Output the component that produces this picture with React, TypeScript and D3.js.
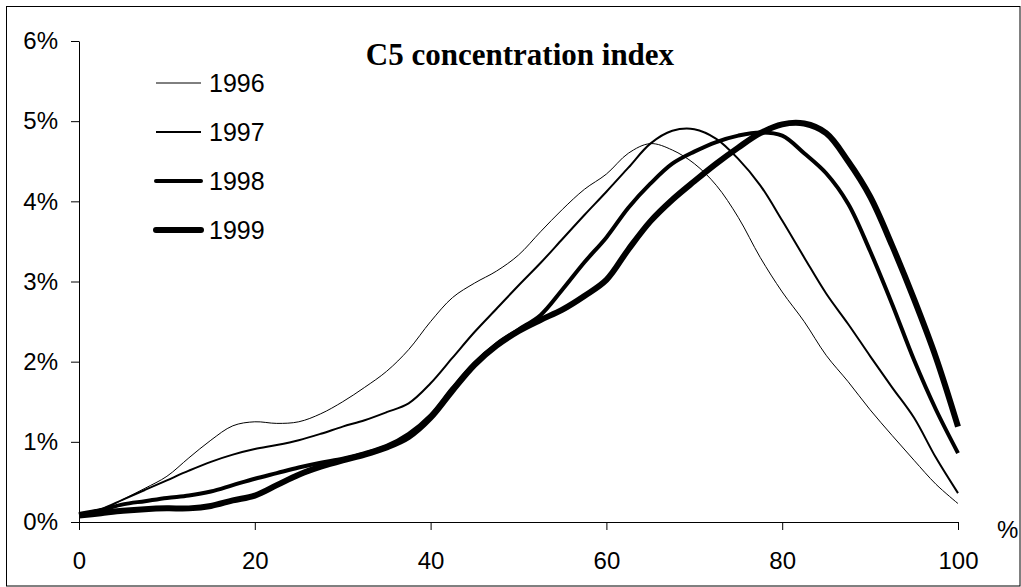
import { useEffect, useRef } from "react";
import * as d3 from "d3";

// share of firms (%) on the x axis
const xs = [0, 2.5, 5, 7.5, 10, 12.5, 15, 17.5, 20, 22.5, 25, 27.5, 30, 32.5, 35, 37.5, 40, 42.5, 45, 47.5, 50, 52.5, 55, 57.5, 60, 62.5, 65, 67.5, 70, 72.5, 75, 77.5, 80, 82.5, 85, 87.5, 90, 92.5, 95, 97.5, 100];

const y1996 = [0.1, 0.15, 0.28, 0.42, 0.57, 0.8, 1.02, 1.2, 1.25, 1.23, 1.25, 1.35, 1.5, 1.68, 1.88, 2.15, 2.5, 2.8, 2.98, 3.13, 3.33, 3.62, 3.9, 4.15, 4.34, 4.6, 4.72, 4.64, 4.47, 4.2, 3.8, 3.3, 2.87, 2.5, 2.08, 1.75, 1.4, 1.08, 0.77, 0.47, 0.23];
const y1997 = [0.1, 0.16, 0.28, 0.4, 0.52, 0.64, 0.75, 0.84, 0.91, 0.96, 1.02, 1.1, 1.19, 1.27, 1.37, 1.48, 1.73, 2.05, 2.37, 2.66, 2.95, 3.23, 3.53, 3.83, 4.12, 4.42, 4.72, 4.88, 4.9, 4.78, 4.53, 4.2, 3.76, 3.3, 2.85, 2.47, 2.07, 1.68, 1.3, 0.8, 0.36];
const y1998 = [0.1, 0.15, 0.22, 0.26, 0.3, 0.33, 0.38, 0.46, 0.54, 0.61, 0.68, 0.74, 0.79, 0.86, 0.95, 1.1, 1.33, 1.67, 1.98, 2.22, 2.4, 2.58, 2.9, 3.24, 3.55, 3.92, 4.22, 4.47, 4.62, 4.74, 4.82, 4.86, 4.82, 4.6, 4.35, 3.97, 3.38, 2.72, 2.02, 1.4, 0.86];
const y1999 = [0.08, 0.11, 0.14, 0.16, 0.17, 0.17, 0.2, 0.27, 0.33, 0.46, 0.59, 0.69, 0.77, 0.84, 0.93, 1.06, 1.3, 1.64, 1.96, 2.2, 2.38, 2.52, 2.65, 2.82, 3.02, 3.4, 3.75, 4.02, 4.25, 4.47, 4.67, 4.85, 4.96, 4.97, 4.85, 4.5, 4.06, 3.45, 2.78, 2.05, 1.19];

const years = ["1996", "1997", "1998", "1999"];
const widths = [1, 2, 4, 6];
const xTicks = [0, 20, 40, 60, 80, 100];
const yTicks = [0, 1, 2, 3, 4, 5, 6];

export default function App() {
  const ref = useRef(null);

  useEffect(() => {
    const svg = d3.select(ref.current);
    svg.selectAll("*").remove();

    const width = 1021, height = 587;
    const font = "'Liberation Sans', Arial, sans-serif";

    // outer frame
    svg.append("rect")
      .attr("x", 6.5).attr("y", 6.5)
      .attr("width", width - 7.5).attr("height", height - 7.5)
      .attr("fill", "white").attr("stroke", "black");

    const x = d3.scaleLinear().domain([0, 100]).range([79, 958]);
    const y = d3.scaleLinear().domain([0, 6]).range([522, 41]);

    // y axis
    const ya = svg.append("g")
      .attr("transform", "translate(79,0)")
      .call(d3.axisLeft(y).tickValues(yTicks).tickFormat((d) => d + "%").tickSize(8).tickSizeOuter(0).tickPadding(13));
    ya.selectAll("text").attr("font-family", font).attr("font-size", 24).attr("fill", "black");

    // x axis
    const xa = svg.append("g")
      .attr("transform", "translate(0,522)")
      .call(d3.axisBottom(x).tickValues(xTicks).tickFormat(d3.format("d")).tickSize(8).tickSizeOuter(0).tickPadding(22));
    xa.selectAll("text").attr("font-family", font).attr("font-size", 24).attr("fill", "black");
    svg.selectAll(".domain, .tick line").attr("stroke", "black");

    svg.append("text")
      .attr("x", 997).attr("y", 538)
      .attr("font-family", font).attr("font-size", 24)
      .text("%");

    // curves
    const series = [y1996, y1997, y1998, y1999];
    const line = d3.line()
      .x((d) => x(d[0]))
      .y((d) => y(d[1]))
      .curve(d3.curveCatmullRom.alpha(0.5));

    series.forEach((s, i) => {
      svg.append("path")
        .datum(xs.map((v, j) => [v, s[j]]))
        .attr("d", line)
        .attr("fill", "none")
        .attr("stroke", "black")
        .attr("stroke-width", widths[i])
        .attr("stroke-linejoin", "round");
    });

    // title
    svg.append("text")
      .attr("x", 520).attr("y", 65)
      .attr("text-anchor", "middle")
      .attr("font-family", "'Liberation Serif', 'Times New Roman', serif")
      .attr("font-weight", "bold")
      .attr("font-size", 31)
      .text("C5 concentration index");

    // legend
    const lg = svg.append("g");
    years.forEach((yr, i) => {
      const ly = 83 + i * 49;
      lg.append("line")
        .attr("x1", 156).attr("x2", 201)
        .attr("y1", ly).attr("y2", ly)
        .attr("stroke", "black")
        .attr("stroke-width", widths[i])
        .attr("stroke-linecap", i > 1 ? "round" : "butt");
      lg.append("text")
        .attr("x", 209).attr("y", ly + 9)
        .attr("font-family", font).attr("font-size", 25)
        .text(yr);
    });
  }, []);

  return (
    <svg
      ref={ref}
      width={1021}
      height={587}
      style={{ position: "absolute", left: 0, top: 0, background: "white" }}
    />
  );
}
